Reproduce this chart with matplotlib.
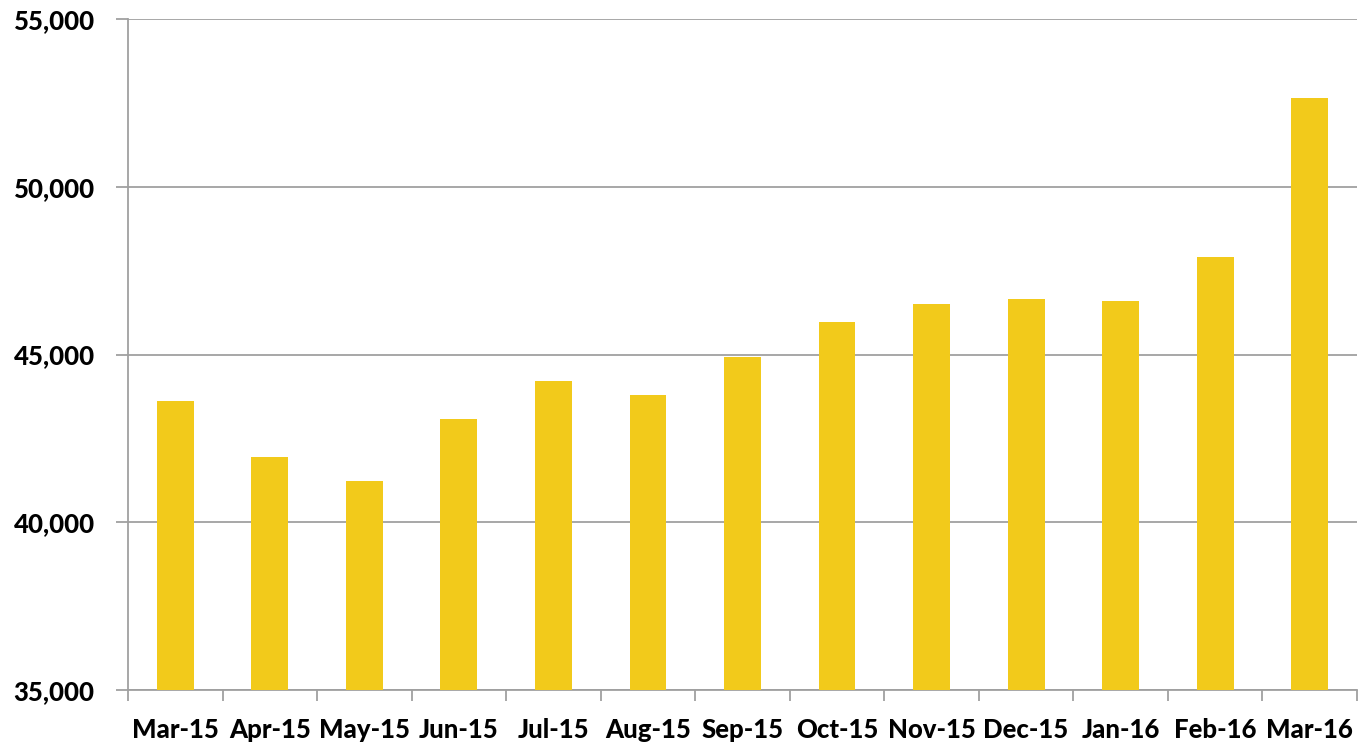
import matplotlib
matplotlib.use("Agg")
import matplotlib.pyplot as plt
from matplotlib.ticker import FuncFormatter, FixedLocator, NullFormatter
import numpy as np

categories = ["Mar-15", "Apr-15", "May-15", "Jun-15", "Jul-15", "Aug-15", "Sep-15",
              "Oct-15", "Nov-15", "Dec-15", "Jan-16", "Feb-16", "Mar-16"]
values = [43620, 41945, 41230, 43080, 44210, 43795, 44925,
          45970, 46505, 46655, 46595, 47905, 52650]
y_ticks = [35000, 40000, 45000, 50000, 55000]

plt.rcParams['font.family'] = ['Lato', 'DejaVu Sans']
fig = plt.figure(figsize=(13.63, 7.49), dpi=100)
ax = fig.add_axes([128/1363, 1-690/749, (1357-128)/1363, (690-19)/749])

x = np.arange(len(categories))
ax.bar(x, values, width=0.39, color="#F2CA1B", zorder=3)

ax.set_xlim(-0.5, len(categories)-0.5)
ax.set_ylim(35000, 55000)
ax.set_yticks(y_ticks)
ax.yaxis.set_major_formatter(FuncFormatter(lambda v, p: f"{int(v):,}"))
ax.grid(axis='y', color="#A0A0A0", linewidth=1.3, zorder=0)

ax.set_xticks(x)
ax.set_xticklabels(categories)
ax.xaxis.set_minor_locator(FixedLocator(np.arange(-0.5, len(categories), 1.0)))
ax.xaxis.set_minor_formatter(NullFormatter())
ax.tick_params(axis='x', which='major', length=0, pad=20, labelsize=18.5)
ax.tick_params(axis='x', which='minor', length=8, width=1.3, color="#A0A0A0", direction='out')
ax.tick_params(axis='y', length=9, width=1.3, color="#A0A0A0", pad=15, labelsize=18.5)
for lab in ax.get_xticklabels() + ax.get_yticklabels():
    lab.set_fontweight(900)

for s in ['top', 'right']:
    ax.spines[s].set_visible(False)
for s in ['left', 'bottom']:
    ax.spines[s].set_color("#A0A0A0")
    ax.spines[s].set_linewidth(1.3)

fig.savefig("out.png", dpi=100)
